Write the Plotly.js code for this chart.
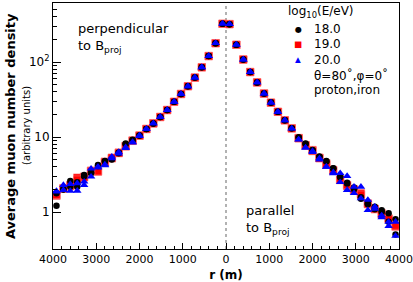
<!DOCTYPE html>
<html>
<head>
<meta charset="utf-8">
<script src="https://cdn.plot.ly/plotly-3.0.1.min.js"></script>
<style>html,body{margin:0;padding:0;background:#fff}#chart{width:413px;height:282px}</style>
</head>
<body>
<div id="chart"></div>
<script>
// distance from core (m), bin centres
const r = [80,240,400,560,720,880,1040,1200,1360,1520,1680,1840,2000,2160,2320,2480,2640,2800,2960,3120,3280,3440,3600,3760,3920];

// perpendicular to B_proj (drawn on the left side)
const perp_E18_p  = [324,178,120,85,62,47.5,37.5,29.5,22.9,18.5,15.2,12.8,10.5,9.2,8.2,6.2,5.0,4.8,4.24,3.38,3.11,2.49,2.6,2.01,1.78];
const perp_E18_Fe = [324,178,120,85,62,47.5,37.5,29.5,22.9,18.5,15.2,12.8,10.5,9.0,8.0,6.1,5.1,4.7,4.1,3.3,3.0,2.17,2.17,2.0,1.21];
const perp_E19_p  = [324,178,120,85,62,47.5,37.5,29.5,22.9,18.5,15.2,12.8,10.5,9.0,7.6,6.2,5.2,4.69,3.45,3.56,2.96,2.87,2.22,2.07,1.65];
const perp_E19_Fe = [324,178,120,85,62,47.5,37.5,29.5,22.9,18.5,15.2,12.8,10.4,8.9,7.5,6.1,5.3,4.6,3.5,3.5,2.9,2.7,2.3,2.05,1.7];
const perp_E20_p  = [324,178,120,85,62,47.5,37.5,29.5,22.9,18.5,15.2,12.8,10.5,8.4,7.1,6.0,5.46,4.2,4.02,3.78,2.54,2.41,2.36,2.29,1.87];
const perp_E20_Fe = [324,178,120,85,62,47.5,37.5,29.5,22.9,18.5,15.2,12.8,10.3,8.6,7.3,6.3,5.2,4.3,3.9,2.96,2.29,1.92,1.91,1.96,1.9];

// parallel to B_proj (drawn on the right side)
const par_E18_p  = [320,170,108,73.5,53.5,38,29,21.7,16.7,13.1,9.9,8.2,6.7,5.5,4.8,3.83,3.0,2.46,2.13,1.57,1.31,1.18,1.06,0.96,0.80];
const par_E18_Fe = [320,170,108,73.5,53.5,38,28.7,21.7,16.7,13.1,9.8,8.1,6.6,5.4,4.7,3.8,2.9,2.4,2.01,1.5,1.27,1.09,1.0,0.74,0.5];
const par_E19_p  = [320,170,108,73.5,53.5,38,28.7,21.7,16.7,13.1,9.7,7.8,6.7,5.3,4.45,3.63,2.67,2.22,1.96,1.78,1.27,1.09,0.96,0.82,0.64];
const par_E19_Fe = [320,170,108,73.5,53.5,38,28.7,21.7,16.7,13.0,9.6,7.7,6.5,5.2,4.3,3.55,2.7,2.3,2.0,1.7,1.3,1.1,0.92,0.8,0.66];
const par_E20_p  = [320,170,108,73.5,53.5,38,28.7,21.7,16.7,13.0,9.3,7.2,6.5,5.2,4.0,3.28,3.3,3.02,2.17,2.17,1.45,1.18,0.85,0.74,0.74];
const par_E20_Fe = [320,170,108,73.5,53.5,38,28.7,21.7,16.7,12.9,9.2,7.2,6.3,5.0,4.0,3.38,2.5,1.96,1.78,1.52,1.06,1.1,0.9,0.65,0.48];

const energyLabels = ['18.0','19.0','20.0'];
const xTickVals = [-4000,-3000,-2000,-1000,0,1000,2000,3000,4000];
const xTickText = ['4000','3000','2000','1000','0','1000','2000','3000','4000'];

const font = 'DejaVu Sans';
const xs = r.map(v => -v).concat(r);
function join(perp, par){ return perp.concat(par); }

const styles = {
  '18.0': {symbol:'circle', size:6.5, color:'#000000', line:{width:0}},
  '19.0': {symbol:'square', size:7.5, color:'#ff0000', line:{width:0.8, color:'rgba(255,120,120,0.7)'}},
  '20.0': {symbol:'triangle-up', size:7.5, color:'#0000ff', line:{width:0}}
};
const glyphs = {'18.0':['●','#000000',8], '19.0':['■','#ff0000',8.5], '20.0':['▲','#0000ff',7.5]};
const series = {
  '18.0': [join(perp_E18_p, par_E18_p), join(perp_E18_Fe, par_E18_Fe)],
  '19.0': [join(perp_E19_p, par_E19_p), join(perp_E19_Fe, par_E19_Fe)],
  '20.0': [join(perp_E20_p, par_E20_p), join(perp_E20_Fe, par_E20_Fe)]
};
const drawOrder = ['19.0','18.0','20.0'];
const traces = [];
drawOrder.forEach(e => {
  series[e].forEach((ys) => {
    traces.push({
      type:'scatter', mode:'markers', x: xs, y: ys,
      name: e, showlegend: false,
      marker: styles[e], hoverinfo:'skip'
    });
  });
});

const minorY = [2,3,4,5,6,7,8,9,20,30,40,50,60,70,80,90,200,300,400,500,600];

// legend built from annotations (rows every 15 px like the reference)
const legRowY = [0.8931, 0.8333, 0.7695];
const legendAnn = [];
legendAnn.push({xref:'paper', yref:'paper', x:0.674, y:0.963, xanchor:'left', yanchor:'middle',
  showarrow:false, text:'log<sub>10</sub>(E/eV)', font:{family:font, size:12}});
energyLabels.forEach((e, i) => {
  const g = glyphs[e];
  legendAnn.push({xref:'paper', yref:'paper', x:0.7081, y:legRowY[i], xanchor:'center', yanchor:'middle',
    showarrow:false, text:g[0], font:{family:font, size:g[2], color:g[1]}});
  legendAnn.push({xref:'paper', yref:'paper', x:0.749, y:legRowY[i], xanchor:'left', yanchor:'middle',
    showarrow:false, text:e, font:{family:font, size:12}});
});
legendAnn.push({xref:'paper', yref:'paper', x:0.749, y:0.7073, xanchor:'left', yanchor:'middle',
  showarrow:false, text:'θ=80˚,φ=0˚', font:{family:font, size:12}});
legendAnn.push({xref:'paper', yref:'paper', x:0.749, y:0.6463, xanchor:'left', yanchor:'middle',
  showarrow:false, text:'proton,iron', font:{family:font, size:12}});

const layout = {
  width: 413, height: 282,
  margin: {l:53, r:14, t:3, b:33},
  paper_bgcolor:'#ffffff', plot_bgcolor:'#ffffff',
  font: {family: font, size: 11, color:'#000'},
  showlegend: false,
  xaxis: {
    range:[-4000,4000], tickmode:'array', tickvals:xTickVals, ticktext:xTickText,
    ticks:'inside', ticklen:6, tickcolor:'#000', showgrid:false, zeroline:false,
    showline:true, linecolor:'#000', linewidth:1, mirror:true,
    minor:{dtick:200, tick0:0, ticks:'inside', ticklen:3, tickcolor:'#000', showgrid:false},
    tickfont:{family:font, size:11},
    title:{text:'<b>r (m)</b>', font:{family:font, size:12}, standoff:5}
  },
  yaxis: {
    type:'log', range:[-0.493, 2.787], tickmode:'array', tickvals:[1,10,100],
    ticktext:['1','10','10<sup>2</sup>'],
    ticks:'inside', ticklen:8, tickcolor:'#000', showgrid:false, zeroline:false,
    showline:true, linecolor:'#000', linewidth:1, mirror:true,
    minor:{tickmode:'array', tickvals:minorY, ticks:'inside', ticklen:4, tickcolor:'#000', showgrid:false},
    tickfont:{family:font, size:12}
  },
  shapes: [{
    type:'line', xref:'x', yref:'paper', x0:0, x1:0, y0:0, y1:1,
    line:{color:'#999999', width:1.5, dash:'dot'}, layer:'below'
  }],
  annotations: [
    {xref:'paper', yref:'paper', x:-0.124, y:0.5, xanchor:'center', yanchor:'middle', textangle:-90,
     showarrow:false, text:'<b>Average muon number density</b>', font:{family:font, size:13}},
    {xref:'paper', yref:'paper', x:-0.078, y:0.5, xanchor:'center', yanchor:'middle', textangle:-90,
     showarrow:false, text:'(arbitrary units)', font:{family:font, size:10}},
    {xref:'paper', yref:'paper', x:0.066, y:0.935, xanchor:'left', yanchor:'top', align:'left',
     showarrow:false, text:'perpendicular<br>to B<sub>proj</sub>', font:{family:font, size:13}},
    {xref:'paper', yref:'paper', x:0.553, y:0.195, xanchor:'left', yanchor:'top', align:'left',
     showarrow:false, text:'parallel<br>to B<sub>proj</sub>', font:{family:font, size:13}}
  ].concat(legendAnn)
};

Plotly.newPlot('chart', traces, layout, {displayModeBar:false, staticPlot:true});
</script>
</body>
</html>
